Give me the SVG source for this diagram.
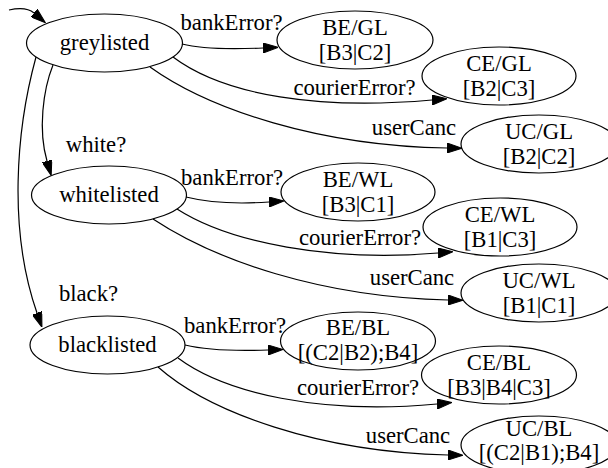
<svg xmlns="http://www.w3.org/2000/svg" width="608" height="468" viewBox="0 0 608 468">
<style>
  .node ellipse { fill: none; stroke: #000; stroke-width: 1.2; }
  text { font-family: "Liberation Serif", "Times New Roman", serif; font-size: 22.7px; fill: #000; text-anchor: middle; }
  .edge path { fill: none; stroke: #000; stroke-width: 1.2; marker-end: url(#arr); }
</style>
<defs>
  <marker id="arr" viewBox="0 0 15 10" refX="0" refY="5" markerWidth="15" markerHeight="10" markerUnits="userSpaceOnUse" orient="auto">
    <path d="M0,0 L15,5 L0,10 z" fill="#000" stroke="#000" stroke-width="1"/>
  </marker>
</defs>
<rect width="608" height="468" fill="#fff"/>

<g id="edges" class="edge">
  <path d="M9,10 C18,8 27,7 34,13"/>
  <path d="M182,44 C205,50 240,49 263,48"/>
  <path d="M173,57 C225,96 320,110 432,100"/>
  <path d="M150,67 C210,110 320,146 447,148"/>
  <path d="M53,65 C43,90 38,130 47,161"/>
  <path d="M36,57 C16,130 8,230 37,313"/>
  <path d="M186,197 C210,203 240,204 269,202"/>
  <path d="M177,209 C230,243 330,262 438,253"/>
  <path d="M153,219 C215,260 320,297 448,300"/>
  <path d="M185,345 C210,351 240,351 268,350"/>
  <path d="M178,358 C225,393 320,415 437,404"/>
  <path d="M158,367 C210,413 320,452 448,455"/>
</g>

<g id="edge-labels">
  <text x="231.5" y="30">bankError?</text>
  <text x="354.5" y="95">courierError?</text>
  <text x="414" y="135">userCanc</text>
  <text x="96" y="152">white?</text>
  <text x="88.5" y="301">black?</text>
  <text x="232" y="185">bankError?</text>
  <text x="360" y="245">courierError?</text>
  <text x="412" y="285">userCanc</text>
  <text x="235" y="333">bankError?</text>
  <text x="358" y="395">courierError?</text>
  <text x="408" y="443">userCanc</text>
</g>

<g id="greylisted" class="node"><ellipse cx="104.5" cy="43" rx="78" ry="29"/><text x="104.5" y="50">greylisted</text></g>
<g id="whitelisted" class="node"><ellipse cx="109" cy="195" rx="77.5" ry="29"/><text x="109" y="202">whitelisted</text></g>
<g id="blacklisted" class="node"><ellipse cx="107.5" cy="345" rx="77.5" ry="29"/><text x="107.5" y="352">blacklisted</text></g>

<g id="BE_GL" class="node"><ellipse cx="355" cy="40" rx="78" ry="29"/><text x="355" y="35">BE/GL</text><text x="355" y="60">[B3|C2]</text></g>
<g id="CE_GL" class="node"><ellipse cx="499" cy="76" rx="77" ry="29"/><text x="499" y="71">CE/GL</text><text x="499" y="96">[B2|C3]</text></g>
<g id="UC_GL" class="node"><ellipse cx="539" cy="144" rx="78" ry="29"/><text x="539" y="139">UC/GL</text><text x="539" y="164">[B2|C2]</text></g>

<g id="BE_WL" class="node"><ellipse cx="358" cy="192" rx="77" ry="29"/><text x="358" y="187">BE/WL</text><text x="358" y="212">[B3|C1]</text></g>
<g id="CE_WL" class="node"><ellipse cx="500" cy="227" rx="77" ry="29"/><text x="500" y="222">CE/WL</text><text x="500" y="247">[B1|C3]</text></g>
<g id="UC_WL" class="node"><ellipse cx="539" cy="293" rx="78" ry="29"/><text x="539" y="288">UC/WL</text><text x="539" y="313">[B1|C1]</text></g>

<g id="BE_BL" class="node"><ellipse cx="358" cy="341" rx="77.5" ry="29"/><text x="358" y="335">BE/BL</text><text x="358" y="360">[(C2|B2);B4]</text></g>
<g id="CE_BL" class="node"><ellipse cx="499" cy="375" rx="77.5" ry="29"/><text x="499" y="370">CE/BL</text><text x="499" y="395">[B3|B4|C3]</text></g>
<g id="UC_BL" class="node"><ellipse cx="539" cy="445" rx="78" ry="29"/><text x="539" y="436">UC/BL</text><text x="539" y="460">[(C2|B1);B4]</text></g>
</svg>
